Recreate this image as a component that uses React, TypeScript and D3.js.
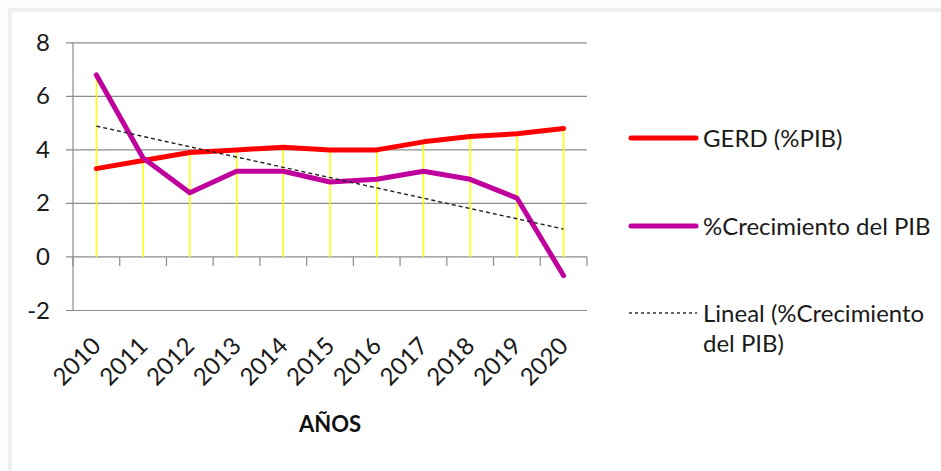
import React from "react";
import * as d3 from "d3";

// Years on the category axis
const years = ["2010", "2011", "2012", "2013", "2014", "2015", "2016", "2017", "2018", "2019", "2020"];
// Gasto en I+D (GERD) como % del PIB
const gerd = [3.3, 3.6, 3.9, 4.0, 4.1, 4.0, 4.0, 4.3, 4.5, 4.6, 4.8];
// Crecimiento anual del PIB (%)
const pibGrowth = [6.8, 3.7, 2.4, 3.2, 3.2, 2.8, 2.9, 3.2, 2.9, 2.2, -0.7];
// Y-axis ticks
const yTicks = [-2, 0, 2, 4, 6, 8];

const W = 941;
const H = 471;
const FONT = "Lato, 'Open Sans', sans-serif";
const RED = "#FF0000";
const PURPLE = "#C0009C";
const GRID = "#8c8c8c";
const TEXT = "#1a1a1a";

export default function App() {
  const x = d3.scaleBand<string>().domain(years).range([73, 587]).padding(0);
  const y = d3.scaleLinear().domain([-2, 8]).range([310.5, 42.8]);
  const cx = (d: string) => (x(d) as number) + x.bandwidth() / 2;

  const line = d3
    .line<number>()
    .x((_, i) => cx(years[i]))
    .y((v) => y(v));

  // Least-squares trend of the GDP growth series
  const idx = pibGrowth.map((_, i) => i);
  const mx = d3.mean(idx) as number;
  const my = d3.mean(pibGrowth) as number;
  const sxy = d3.sum(idx, (i) => (i - mx) * (pibGrowth[i] - my));
  const sxx = d3.sum(idx, (i) => (i - mx) * (i - mx));
  const slope = sxy / sxx;
  const icpt = my - slope * mx;
  const trend = idx.map((i) => icpt + slope * i);

  const boundaries = years.map((d) => x(d) as number).concat([587]);

  return (
    <svg width={W} height={H} style={{ position: "absolute", left: 0, top: 0 }}>
      <rect x={0} y={0} width={W} height={H} fill="#fdfdfd" />
      <rect x={8} y={8} width={W - 8} height={4} fill="#efefef" />
      <rect x={8} y={8} width={4} height={H - 8} fill="#efefef" />
      <rect x={12} y={12} width={W - 12} height={H - 12} fill="#ffffff" />

      {/* horizontal gridlines */}
      {yTicks.map((t) => (
        <line key={t} x1={66} x2={587} y1={y(t)} y2={y(t)} stroke={GRID} strokeWidth={1.2} />
      ))}
      {/* value axis */}
      <line x1={73} x2={73} y1={y(8)} y2={y(-2)} stroke={GRID} strokeWidth={1.2} />
      {/* category axis at zero with tick marks */}
      {boundaries.map((b, i) => (
        <line key={i} x1={b} x2={b} y1={y(0)} y2={y(0) + 9} stroke={GRID} strokeWidth={1.2} />
      ))}

      {/* drop lines */}
      {years.map((d, i) => (
        <line
          key={d}
          x1={cx(d)}
          x2={cx(d)}
          y1={y(Math.max(gerd[i], pibGrowth[i]))}
          y2={y(0)}
          stroke="#FFFF00"
          strokeWidth={1.5}
        />
      ))}

      {/* series */}
      <path d={line(gerd) as string} fill="none" stroke={RED} strokeWidth={5} strokeLinejoin="round" strokeLinecap="round" />
      <path d={line(pibGrowth) as string} fill="none" stroke={PURPLE} strokeWidth={5} strokeLinejoin="round" strokeLinecap="round" />
      <path d={line(trend) as string} fill="none" stroke="#222" strokeWidth={1.4} strokeDasharray="4,3" />

      {/* y tick labels */}
      {yTicks.map((t) => (
        <text key={t} x={50} y={y(t) + 8} textAnchor="end" fontFamily={FONT} fontSize={24} fill={TEXT}>
          {t}
        </text>
      ))}

      {/* year labels */}
      {years.map((d) => (
        <text
          key={d}
          transform={`translate(${cx(d) + 6},${y(-2) + 37}) rotate(-45)`}
          textAnchor="end"
          fontFamily={FONT}
          fontSize={24}
          fill={TEXT}
        >
          {d}
        </text>
      ))}

      <text x={330} y={432} textAnchor="middle" fontFamily={FONT} fontSize={22} fontWeight="bold" fill="#111">
        AÑOS
      </text>

      {/* legend */}
      <line x1={631} x2={696} y1={138} y2={138} stroke={RED} strokeWidth={5} strokeLinecap="round" />
      <text x={703} y={147} fontFamily={FONT} fontSize={24} fill={TEXT}>GERD (%PIB)</text>
      <line x1={631} x2={696} y1={226} y2={226} stroke={PURPLE} strokeWidth={5} strokeLinecap="round" />
      <text x={703} y={235} fontFamily={FONT} fontSize={24} fill={TEXT}>%Crecimiento del PIB</text>
      <line x1={629} x2={697} y1={313} y2={313} stroke="#333" strokeWidth={1.3} strokeDasharray="3,3" />
      <text x={703} y={322} fontFamily={FONT} fontSize={24} fill={TEXT}>Lineal (%Crecimiento</text>
      <text x={703} y={352} fontFamily={FONT} fontSize={24} fill={TEXT}>del PIB)</text>
    </svg>
  );
}
